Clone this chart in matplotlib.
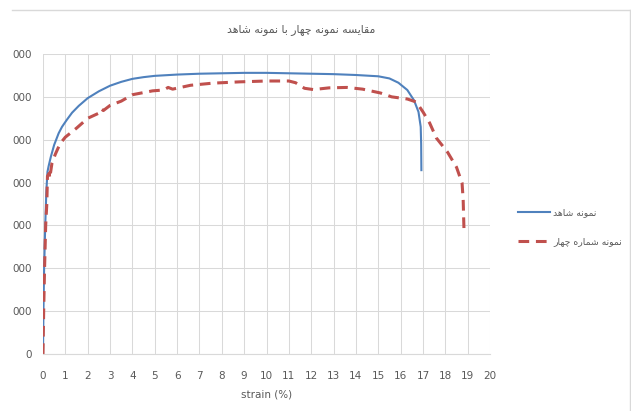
import matplotlib
matplotlib.use('Agg')
import matplotlib.pyplot as plt
from matplotlib.lines import Line2D

# strain (%) / load readings for the two samples
strain_control = [0, 0.02, 0.05, 0.1, 0.15, 0.2, 0.25, 0.35, 0.5, 0.7, 0.85, 1.06, 1.3,
                  1.6, 2.0, 2.5, 3.0, 3.5, 4.0, 4.5, 5.0, 6.0, 7.0, 8.0, 9.0, 10.0, 11.0,
                  12.0, 13.0, 14.0, 15.0, 15.5, 15.9, 16.3, 16.6, 16.8, 16.9, 16.92, 16.93]
load_control = [0, 1.0, 2.0, 3.0, 3.8, 4.25, 4.38, 4.6, 4.88, 5.15, 5.3, 5.46, 5.63,
                5.79, 5.97, 6.13, 6.26, 6.35, 6.42, 6.46, 6.49, 6.52, 6.54, 6.55, 6.56,
                6.56, 6.55, 6.54, 6.53, 6.51, 6.48, 6.43, 6.33, 6.16, 5.92, 5.65, 5.3,
                4.9, 4.29]

strain_four = [0, 0.03, 0.07, 0.12, 0.17, 0.2, 0.28, 0.3, 0.4, 0.55, 0.67, 0.8, 1.0, 1.5,
               2.0, 2.5, 2.6, 2.7, 3.0, 3.5, 4.0, 4.9, 5.4, 5.6, 5.8, 6.6, 7.6, 8.8,
               10.0, 11.0, 11.3, 11.7, 12.1, 12.8, 13.6, 14.3, 15.1, 15.6, 16.3, 16.7,
               17.0, 17.3, 17.6, 18.1, 18.5, 18.75, 18.8, 18.84]
load_four = [0, 1.0, 2.0, 3.0, 3.5, 4.15, 4.22, 4.1, 4.45, 4.66, 4.8, 4.93, 5.06, 5.27,
             5.5, 5.62, 5.72, 5.68, 5.8, 5.9, 6.05, 6.14, 6.16, 6.22, 6.18, 6.27, 6.32,
             6.35, 6.37, 6.37, 6.33, 6.2, 6.17, 6.21, 6.22, 6.18, 6.09, 6.0, 5.95, 5.88,
             5.65, 5.39, 5.04, 4.71, 4.36, 3.99, 3.59, 2.82]

x_ticks = list(range(0, 21))
y_ticks = list(range(0, 8))
y_tick_labels = ['0', '000', '000', '000', '000', '000', '000', '000']

title = 'مقایسه نمونه چهار با نمونه شاهد'
label_control = 'نمونه شاهد'
label_four = 'نمونه شماره چهار'

# isolated, final, initial, medial forms
FORMS = {
    'ا': ('\uFE8D', '\uFE8E', None, None),
    'ب': ('\uFE8F', '\uFE90', '\uFE91', '\uFE92'),
    'چ': ('\uFB7A', '\uFB7B', '\uFB7C', '\uFB7D'),
    'د': ('\uFEA9', '\uFEAA', None, None),
    'ر': ('\uFEAD', '\uFEAE', None, None),
    'س': ('\uFEB1', '\uFEB2', '\uFEB3', '\uFEB4'),
    'ش': ('\uFEB5', '\uFEB6', '\uFEB7', '\uFEB8'),
    'ق': ('\uFED5', '\uFED6', '\uFED7', '\uFED8'),
    'م': ('\uFEE1', '\uFEE2', '\uFEE3', '\uFEE4'),
    'ن': ('\uFEE5', '\uFEE6', '\uFEE7', '\uFEE8'),
    'ه': ('\uFEE9', '\uFEEA', '\uFEEB', '\uFEEC'),
    'و': ('\uFEED', '\uFEEE', None, None),
    'ی': ('\uFBFC', '\uFBFD', '\uFBFE', '\uFBFF'),
}


def shape(text):
    # join letters and flip to visual order, matplotlib doesn't do it
    out = []
    for i, ch in enumerate(text):
        if ch not in FORMS:
            out.append(ch)
            continue
        prev = text[i - 1] if i > 0 else ''
        nxt = text[i + 1] if i + 1 < len(text) else ''
        iso, fin, ini, med = FORMS[ch]
        joins_prev = prev in FORMS and FORMS[prev][2] is not None
        joins_next = nxt in FORMS and ini is not None
        if joins_prev and joins_next:
            out.append(med)
        elif joins_prev:
            out.append(fin)
        elif joins_next:
            out.append(ini)
        else:
            out.append(iso)
    return ''.join(reversed(out))


grey = '#595959'
plt.rcParams['font.family'] = ['DejaVu Sans']

fig = plt.figure(figsize=(6.31, 4.11), dpi=100)
ax = fig.add_axes([43 / 631, 57 / 411, 447 / 631, 300 / 411])

ax.plot(strain_control, load_control, color='#4f81bd', lw=1.5, label=shape(label_control))
ax.plot(strain_four, load_four, color='#c0504d', lw=2.2, dashes=(3.5, 2.2),
        label=shape(label_four))

ax.set_xlim(0, 20)
ax.set_ylim(0, 7)
ax.set_xticks(x_ticks)
ax.set_yticks(y_ticks)
ax.set_yticklabels(y_tick_labels)
ax.tick_params(length=0, labelsize=7.5, labelcolor=grey)
ax.tick_params(axis='y', pad=8)
ax.tick_params(axis='x', pad=12)
ax.grid(color='#d9d9d9', lw=0.75)
ax.set_axisbelow(True)
for side in ['top', 'right', 'left']:
    ax.spines[side].set_visible(False)
ax.spines['bottom'].set_color('#d9d9d9')
ax.set_xlabel('strain (%)', fontsize=7.5, color=grey, labelpad=6)

fig.text(301 / 631, 381 / 411, shape(title), ha='center', va='center', fontsize=7.8, color=grey)

ax.legend(loc='center left', bbox_to_anchor=(1.045, 0.423), frameon=False, fontsize=6.7,
          labelcolor=grey, handlelength=3.4, labelspacing=2.1, handletextpad=0.35)

# chart area border
fig.add_artist(Line2D([12 / 631, 630 / 631], [401 / 411, 401 / 411], color='#d9d9d9', lw=1))
fig.add_artist(Line2D([630 / 631, 630 / 631], [0, 401 / 411], color='#d9d9d9', lw=1))

fig.savefig('out.png', dpi=100)
